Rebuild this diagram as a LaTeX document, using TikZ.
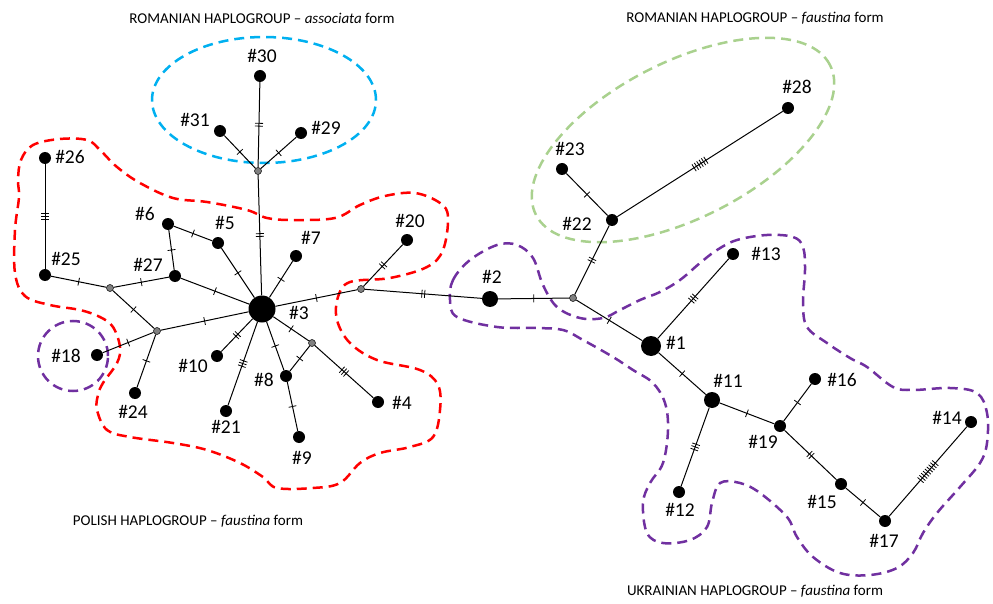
\documentclass[tikz,border=0pt]{standalone}
\usepackage{fontspec}
\setmainfont{Carlito}
\usetikzlibrary{decorations.markings}
\definecolor{hblue}{HTML}{00B0F0}
\definecolor{hgreen}{HTML}{A9D18E}
\definecolor{hpurple}{HTML}{7030A0}
\definecolor{hred}{HTML}{FF0000}
\definecolor{hgray}{HTML}{808080}
\tikzset{
 hap/.style={circle,fill=black,inner sep=0pt,minimum size=12pt},
 med/.style={circle,fill=hgray,draw=black,line width=0.5pt,inner sep=0pt,minimum size=7pt},
 lab/.style={font=\fontsize{19.5}{22}\selectfont,inner sep=0pt},
 ttl/.style={font=\fontsize{15}{18}\selectfont,inner sep=0pt},
 edge/.style={line width=1pt},
 tk/.style={postaction={decorate,decoration={markings,mark=at position 0.5 with {\foreach \i in {1,...,#1}{\draw[line width=0.8pt] ({(\i-(#1+1)/2)*2.8pt},-4pt) -- ({(\i-(#1+1)/2)*2.8pt},4pt);}}}}},
 hull/.style={line width=2.5pt,dash pattern=on 10pt off 6pt}
}
\begin{document}
\begin{tikzpicture}[x=1pt,y=-1pt]
\useasboundingbox (0,0) rectangle (993,604);
% hulls
\draw[hull,hblue] (264,100) ellipse [x radius=112pt, y radius=63pt];
\draw[hull,hgreen,rotate around={27:(683,140)}] (683,140) ellipse [x radius=165pt, y radius=78pt];
\draw[hull,hpurple] (73,356) circle [radius=35pt];
\draw[hull,hred] plot[smooth cycle,tension=0.6] coordinates {
(33,145) (60,139) (87,140) (100,150) (117,167) (140,183) (173,198) (207,202) (247,210) (267,218) (293,220) (335,218) (360,205) (385,196) (415,193) (440,203) (448,217) (443,250) (427,267) (390,278) (350,282) (338,297) (337,320) (350,343) (377,360) (420,370) (438,385) (440,410) (433,437) (410,447) (380,453) (360,463) (340,483) (313,488) (277,488) (263,477) (240,463) (207,450) (173,443) (130,437) (107,430) (97,410) (98,395) (103,383) (117,363) (120,347) (113,327) (100,317) (80,310) (50,305) (25,296) (15,273) (15,230) (19,197) (18,180) (21,160)};
\draw[hull,hpurple] plot[smooth cycle,tension=0.6] coordinates {
(450,300) (453,280) (470,260) (497,245) (517,245) (533,258) (543,285) (557,307) (580,318) (603,318) (620,310) (640,300) (660,292) (680,280) (700,263) (717,250) (737,240) (767,235) (793,237) (803,247) (805,270) (803,303) (807,327) (827,343) (850,358) (867,367) (893,387) (913,390) (950,388) (977,393) (987,413) (987,443) (980,463) (960,487) (937,513) (923,533) (913,553) (897,568) (870,575) (840,573) (813,557) (797,537) (787,517) (760,493) (740,483) (720,483) (712,503) (707,527) (690,540) (663,543) (647,533) (643,503) (650,483) (663,463) (668,430) (665,403) (653,383) (633,370) (613,357) (583,340) (563,330) (537,328) (497,327) (457,317)};
% nodes
\node[hap] (n30) at (260,76) {};
\node[hap] (n31) at (220,131) {};
\node[hap] (n29) at (301,133) {};
\node[med] (vt) at (258,171) {};
\node[hap] (n26) at (45,158) {};
\node[hap] (n25) at (45,275) {};
\node[med] (vl) at (110,288) {};
\node[hap] (n27) at (175,276) {};
\node[hap] (n6) at (168,224) {};
\node[hap] (n5) at (218,243) {};
\node[hap] (n7) at (296,256) {};
\node[hap,minimum size=27pt] (n3) at (262,309) {};
\node[med] (vl2) at (157,331) {};
\node[hap] (n18) at (97,355) {};
\node[hap] (n24) at (135,393) {};
\node[hap] (n10) at (217,356) {};
\node[hap] (n21) at (226,411) {};
\node[hap] (n8) at (286,376) {};
\node[med] (vc) at (312,343) {};
\node[hap] (n9) at (299,437) {};
\node[hap] (n4) at (378,402) {};
\node[med] (vr) at (361,289) {};
\node[hap] (n20) at (407,240) {};
\node[hap,minimum size=16pt] (n2) at (490,299) {};
\node[med] (v2) at (573,298) {};
\node[hap] (n22) at (612,220) {};
\node[hap] (n23) at (562,169) {};
\node[hap] (n28) at (788,108) {};
\node[hap] (n13) at (733,254) {};
\node[hap,minimum size=20pt] (n1) at (651,346) {};
\node[hap,minimum size=16pt] (n11) at (712,400) {};
\node[hap] (n19) at (780,426) {};
\node[hap] (n16) at (815,379) {};
\node[hap] (n12) at (679,492) {};
\node[hap] (n15) at (841,484) {};
\node[hap] (n17) at (885,521) {};
\node[hap] (n14) at (971,422) {};
% edges
\draw[edge,tk=2] (n30) -- (vt);
\draw[edge,tk=1] (n31) -- (vt);
\draw[edge,tk=1] (n29) -- (vt);
\draw[edge,tk=2] (vt) -- (n3);
\draw[edge,tk=3] (n26) -- (n25);
\draw[edge,tk=1] (n25) -- (vl);
\draw[edge,tk=1] (vl) -- (n27);
\draw[edge,tk=1] (n27) -- (n6);
\draw[edge,tk=1] (n6) -- (n5);
\draw[edge,tk=1] (n5) -- (n3);
\draw[edge,tk=1] (n27) -- (n3);
\draw[edge,tk=1] (n7) -- (n3);
\draw[edge,tk=1] (vl) -- (vl2);
\draw[edge,tk=1] (vl2) -- (n3);
\draw[edge,tk=1] (vl2) -- (n18);
\draw[edge,tk=1] (vl2) -- (n24);
\draw[edge,tk=2] (n3) -- (n10);
\draw[edge,tk=3] (n3) -- (n21);
\draw[edge,tk=1] (n3) -- (n8);
\draw[edge,tk=1] (n3) -- (vc);
\draw[edge,tk=1] (vc) -- (n8);
\draw[edge,tk=1] (n8) -- (n9);
\draw[edge,tk=3] (vc) -- (n4);
\draw[edge,tk=1] (n3) -- (vr);
\draw[edge,tk=2] (vr) -- (n20);
\draw[edge,tk=2] (vr) -- (n2);
\draw[edge,tk=1] (n2) -- (v2);
\draw[edge,tk=2] (v2) -- (n22);
\draw[edge,tk=1] (n22) -- (n23);
\draw[edge,tk=6] (n22) -- (n28);
\draw[edge,tk=1] (v2) -- (n1);
\draw[edge,tk=3] (n1) -- (n13);
\draw[edge,tk=1] (n1) -- (n11);
\draw[edge,tk=3] (n11) -- (n12);
\draw[edge,tk=1] (n11) -- (n19);
\draw[edge,tk=1] (n19) -- (n16);
\draw[edge,tk=2] (n19) -- (n15);
\draw[edge,tk=1] (n15) -- (n17);
\draw[edge,tk=9] (n17) -- (n14);
% labels
\node[lab] (t30) at (262,56) {\#30};
\node[lab] (t31) at (195,120) {\#31};
\node[lab] (t29) at (326,128) {\#29};
\node[lab] (t26) at (70,157) {\#26};
\node[lab] (t25) at (66,259) {\#25};
\node[lab] (t27) at (148,265) {\#27};
\node[lab] (t6) at (145,214) {\#6};
\node[lab] (t5) at (225,223) {\#5};
\node[lab] (t7) at (311,238) {\#7};
\node[lab] (t3) at (299,313) {\#3};
\node[lab] (t18) at (66,356) {\#18};
\node[lab] (t24) at (133,412) {\#24};
\node[lab] (t10) at (193,366) {\#10};
\node[lab] (t21) at (226,427) {\#21};
\node[lab] (t8) at (264,380) {\#8};
\node[lab] (t9) at (302,458) {\#9};
\node[lab] (t4) at (402,403) {\#4};
\node[lab] (t20) at (410,221) {\#20};
\node[lab] (t2) at (492,277) {\#2};
\node[lab] (t22) at (577,224) {\#22};
\node[lab] (t23) at (570,149) {\#23};
\node[lab] (t28) at (797,87) {\#28};
\node[lab] (t13) at (766,254) {\#13};
\node[lab] (t1) at (676,343) {\#1};
\node[lab] (t11) at (728,381) {\#11};
\node[lab] (t16) at (842,380) {\#16};
\node[lab] (t19) at (763,442) {\#19};
\node[lab] (t12) at (680,510) {\#12};
\node[lab] (t15) at (822,502) {\#15};
\node[lab] (t17) at (884,541) {\#17};
\node[lab] (t14) at (947,418) {\#14};
% titles
\node[ttl] (T1) at (262,18) {ROMANIAN HAPLOGROUP -- \textit{associata} form};
\node[ttl] (T2) at (755,18) {ROMANIAN HAPLOGROUP -- \textit{faustina} form};
\node[ttl] (T3) at (188,521) {POLISH HAPLOGROUP -- \textit{faustina} form};
\node[ttl] (T4) at (755,591) {UKRAINIAN HAPLOGROUP -- \textit{faustina} form};
\end{tikzpicture}
\end{document}
